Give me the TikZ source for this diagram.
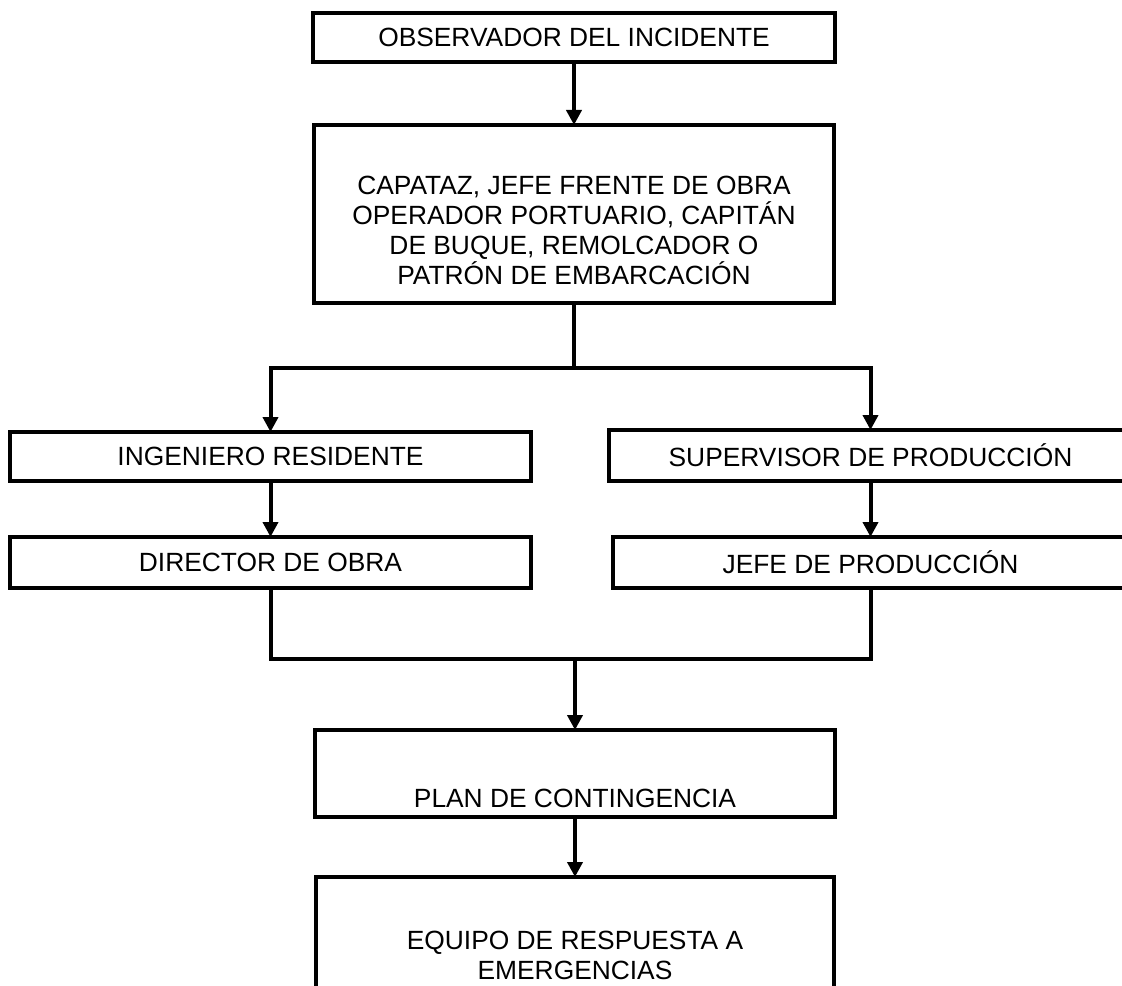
\documentclass[tikz,border=0pt]{standalone}
\usepackage{fontspec}
\setmainfont{Liberation Sans}
\usetikzlibrary{arrows.meta, positioning}

\begin{document}
\begin{tikzpicture}[
    x=0.02cm, y=-0.02cm,
    box/.style={rectangle, draw=black, line width=0.08cm, outer sep=0pt,
                align=center, font=\fontsize{15}{17}\selectfont},
    txt/.style={align=center, font=\fontsize{15}{17}\selectfont},
    line/.style={line width=0.08cm},
    arrow/.style={-{Triangle[length=0.3cm, width=0.3cm]}, line width=0.08cm}
]
    \useasboundingbox (0,0) rectangle (1122,985);

    \node[box, minimum width=10.44cm, minimum height=0.98cm] (obs) at (574,37.5) {OBSERVADOR DEL INCIDENTE};
    \node[box, minimum width=10.42cm, minimum height=3.56cm, below=1.26cm of obs] (cap) {};
    \node[txt] (capt) at ([yshift=-0.33cm]cap.center) {CAPATAZ, JEFE FRENTE DE OBRA\\OPERADOR PORTUARIO, CAPITÁN\\DE BUQUE, REMOLCADOR O\\PATRÓN DE EMBARCACIÓN};

    \node[box, minimum width=10.42cm, minimum height=0.98cm] (ing) at (270.5,456.5) {INGENIERO RESIDENTE};
    \node[box, minimum width=10.42cm, minimum height=1.02cm, below=1.12cm of ing] (dir) {DIRECTOR DE OBRA};
    \node[box, minimum width=10.46cm, minimum height=1.02cm] (sup) at (870.5,455.5) {SUPERVISOR DE PRODUCCIÓN};
    \node[box, minimum width=10.30cm, minimum height=1.02cm, below=1.12cm of sup] (jefe) {JEFE DE PRODUCCIÓN};

    \node[box, minimum width=10.40cm, minimum height=1.74cm] (plan) at (575,773.5) {};
    \node[txt] (plant) at ([yshift=-0.49cm]plan.center) {PLAN DE CONTINGENCIA};
    \node[box, minimum width=10.38cm, minimum height=3.14cm, below=1.2cm of plan] (equipo) {EQUIPO DE RESPUESTA A\\EMERGENCIAS};

    \coordinate (split) at (574,368);
    \coordinate (join) at (575,659);

    \draw[arrow] (obs) -- (cap);
    \draw[line] (cap) -- (split);
    \draw[arrow] (split) -| (ing);
    \draw[arrow] (split) -| (sup);
    \draw[arrow] (ing) -- (dir);
    \draw[arrow] (sup) -- (jefe);
    \draw[line] (dir) |- (join) -| (jefe);
    \draw[arrow] (join) -- (plan);
    \draw[arrow] (plan) -- (equipo);
\end{tikzpicture}
\end{document}
